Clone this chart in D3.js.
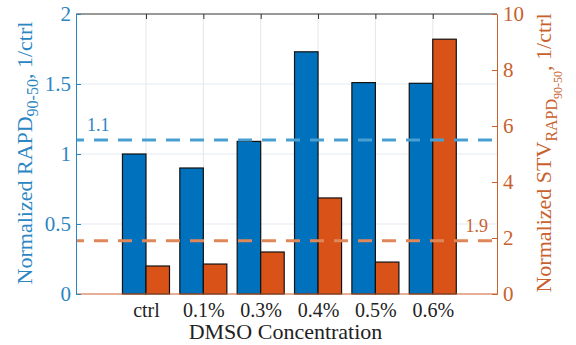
<!DOCTYPE html>
<html>
<head>
<meta charset="utf-8">
<script src="https://cdn.jsdelivr.net/npm/d3@7"></script>
<style>
	body { margin: 0; background: #fff; }
</style>
</head>
<body>
<svg id="chart" width="576" height="345"></svg>
<script>
// data
let categories = ['ctrl', '0.1%', '0.3%', '0.4%', '0.5%', '0.6%']
let rapd = [1.0, 0.9, 1.09, 1.73, 1.51, 1.505]      // left axis
let stv = [1.0, 1.07, 1.5, 3.43, 1.14, 9.1]          // right axis
let leftTicks = [0, 0.5, 1, 1.5, 2]
let rightTicks = [0, 2, 4, 6, 8, 10]
let rapdRef = 1.1
let stvRef = 1.9

let blue = '#0072BD'
let orange = '#D95319'
let blueText = '#2b86c2'
let orangeText = '#c9612e'
let serif = 'Liberation Serif'

let plot = {left: 76, right: 497, top: 14, bottom: 294}

let svg = d3.select('#chart')

let x = d3.scaleLinear()
	.domain([-0.22, 7.12])
	.range([plot.left, plot.right])

let yL = d3.scaleLinear().domain([0, 2]).range([plot.bottom, plot.top])
let yR = d3.scaleLinear().domain([0, 10]).range([plot.bottom, plot.top])

let pos = categories.map((c, i) => i + 1)
let barW = 0.41

// grid
svg.append('g').selectAll('line')
	.data(pos)
	.enter().append('line')
	.attr('x1', d => x(d)).attr('x2', d => x(d))
	.attr('y1', plot.top).attr('y2', plot.bottom)
	.attr('stroke', '#e3e6ea').attr('stroke-width', 1)

svg.append('g').selectAll('line')
	.data(leftTicks.slice(1, -1))
	.enter().append('line')
	.attr('x1', plot.left).attr('x2', plot.right)
	.attr('y1', d => yL(d)).attr('y2', d => yL(d))
	.attr('stroke', '#e3ebf2').attr('stroke-width', 1)

// bars
let bars = svg.append('g')
bars.selectAll('.b')
	.data(rapd)
	.enter().append('rect')
	.attr('x', (d, i) => x(pos[i] - barW))
	.attr('width', x(barW) - x(0))
	.attr('y', d => yL(d))
	.attr('height', d => yL(0) - yL(d))
	.attr('fill', blue).attr('stroke', '#111').attr('stroke-width', 1.2)

bars.selectAll('.o')
	.data(stv)
	.enter().append('rect')
	.attr('x', (d, i) => x(pos[i]))
	.attr('width', x(barW) - x(0))
	.attr('y', d => yR(d))
	.attr('height', d => yR(0) - yR(d))
	.attr('fill', orange).attr('stroke', '#111').attr('stroke-width', 1.2)

// reference lines
svg.append('line')
	.attr('x1', plot.left).attr('x2', plot.right)
	.attr('y1', yL(rapdRef)).attr('y2', yL(rapdRef))
	.attr('stroke', '#4a9fd2').attr('stroke-width', 3)
	.attr('stroke-dasharray', '14,10').attr('stroke-dashoffset', 6)

svg.append('line')
	.attr('x1', plot.left).attr('x2', plot.right)
	.attr('y1', yR(stvRef)).attr('y2', yR(stvRef))
	.attr('stroke', '#e0875a').attr('stroke-width', 3)
	.attr('stroke-dasharray', '14,10').attr('stroke-dashoffset', 6)

svg.append('text')
	.attr('x', plot.left + 11).attr('y', yL(rapdRef) - 9)
	.attr('font-family', serif).attr('font-size', 18).attr('fill', blueText)
	.text(rapdRef.toFixed(1))

svg.append('text')
	.attr('x', plot.right - 9).attr('y', yR(stvRef) - 9)
	.attr('text-anchor', 'end')
	.attr('font-family', serif).attr('font-size', 18).attr('fill', orangeText)
	.text(stvRef.toFixed(1))

// axes
let topAxis = svg.append('g')
	.attr('transform', `translate(0,${plot.top})`)
	.call(d3.axisTop(x).tickValues(pos).tickSize(-5).tickFormat(''))
topAxis.select('.domain').attr('stroke', '#333').attr('d', `M${plot.left},0H${plot.right}`)
topAxis.selectAll('.tick line').attr('stroke', '#333')

let bottomAxis = svg.append('g')
	.attr('transform', `translate(0,${plot.bottom})`)
	.call(d3.axisBottom(x).tickValues(pos).tickSize(0).tickPadding(9).tickFormat((d, i) => categories[i]))
bottomAxis.attr('font-family', serif).attr('font-size', 20)
bottomAxis.select('.domain').attr('stroke', orangeText).attr('d', `M${plot.left},0H${plot.right}`)
bottomAxis.selectAll('.tick text').attr('fill', '#222')

let leftAxis = svg.append('g')
	.attr('transform', `translate(${plot.left},0)`)
	.call(d3.axisLeft(yL).tickValues(leftTicks).tickSize(-5).tickPadding(5).tickFormat(d3.format('')))
leftAxis.attr('font-family', serif).attr('font-size', 21)
leftAxis.select('.domain').attr('stroke', blueText)
leftAxis.selectAll('.tick line').attr('stroke', blueText)
leftAxis.selectAll('.tick text').attr('fill', blueText)

let rightAxis = svg.append('g')
	.attr('transform', `translate(${plot.right},0)`)
	.call(d3.axisRight(yR).tickValues(rightTicks).tickSize(-5).tickPadding(6))
rightAxis.attr('font-family', serif).attr('font-size', 21)
rightAxis.select('.domain').attr('stroke', orangeText)
rightAxis.selectAll('.tick line').attr('stroke', orangeText)
rightAxis.selectAll('.tick text').attr('fill', orangeText)

// titles
svg.append('text')
	.attr('x', (plot.left + plot.right) / 2 - 1).attr('y', 339)
	.attr('text-anchor', 'middle')
	.attr('font-family', serif).attr('font-size', 22).attr('fill', '#222')
	.text('DMSO Concentration')

let lt = svg.append('text')
	.attr('transform', 'translate(32,153) rotate(-90)')
	.attr('text-anchor', 'middle')
	.attr('font-family', serif).attr('font-size', 22).attr('fill', blueText)
lt.append('tspan').text('Normalized RAPD')
lt.append('tspan').attr('font-size', 16).attr('dy', 6).text('90-50')
lt.append('tspan').attr('dy', -6).text(', 1/ctrl')

let rt = svg.append('text')
	.attr('transform', 'translate(551,153) rotate(-90)')
	.attr('text-anchor', 'middle')
	.attr('font-family', serif).attr('font-size', 22).attr('fill', orangeText)
rt.append('tspan').text('Normalized STV')
rt.append('tspan').attr('font-size', 16).attr('dy', 6).text('RAPD')
rt.append('tspan').attr('font-size', 12).attr('dy', 5).text('90-50')
rt.append('tspan').attr('dy', -11).text(', 1/ctrl')
</script>
</body>
</html>
